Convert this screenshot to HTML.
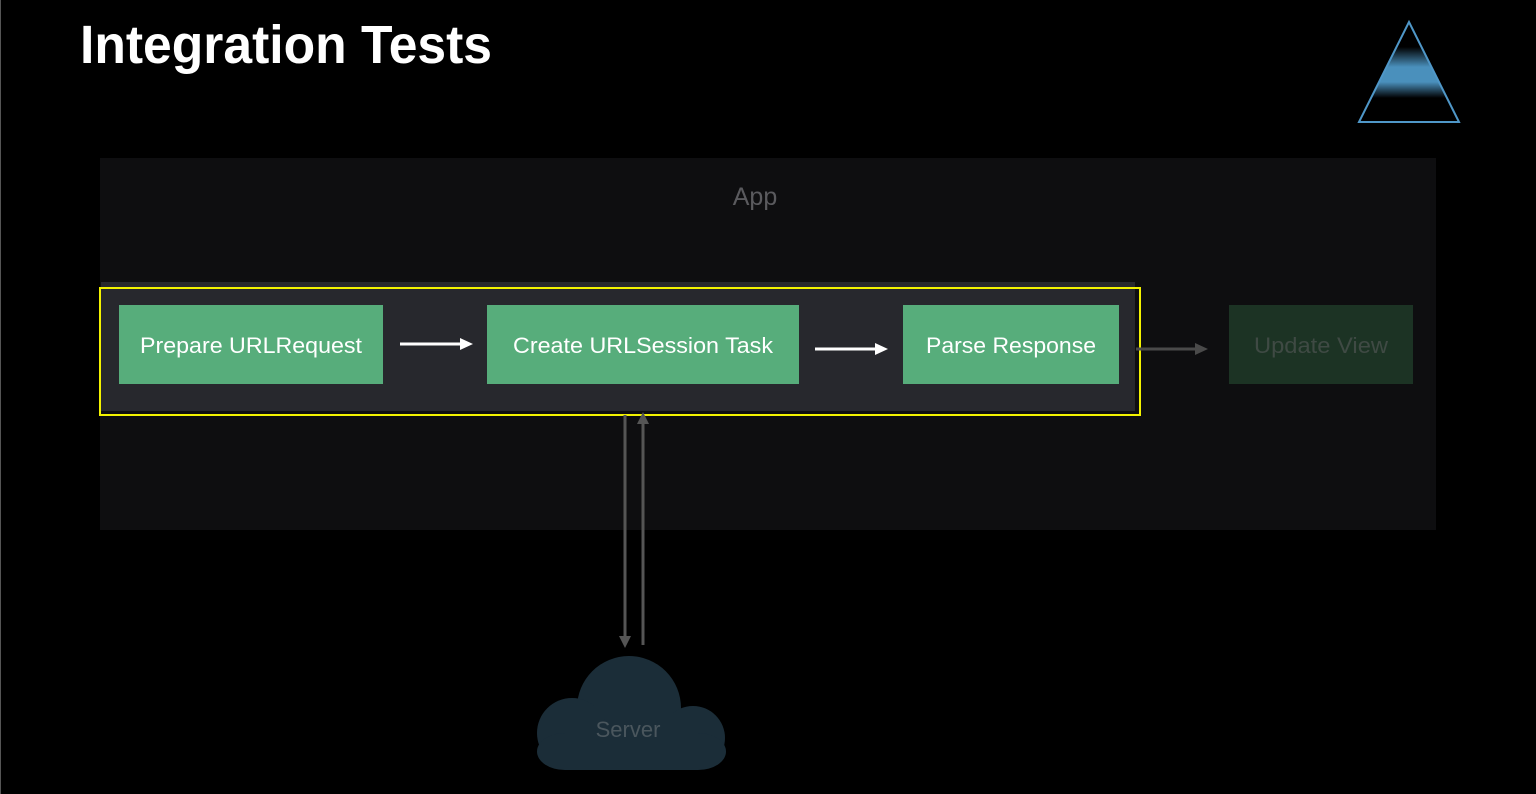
<!DOCTYPE html>
<html><head><meta charset="utf-8"><style>
html,body{margin:0;padding:0;background:#000;}
svg{display:block}
text{font-family:"Liberation Sans",sans-serif;}
</style></head><body>
<svg width="1536" height="794" viewBox="0 0 1536 794" xmlns="http://www.w3.org/2000/svg">
<defs>
<linearGradient id="tg" x1="0" y1="0" x2="0" y2="1">
<stop offset="0" stop-color="#000"/>
<stop offset="0.25" stop-color="#000"/>
<stop offset="0.45" stop-color="#4a90bc"/>
<stop offset="0.6" stop-color="#4a90bc"/>
<stop offset="0.76" stop-color="#000"/>
<stop offset="1" stop-color="#000"/>
</linearGradient>
</defs>
<rect width="1536" height="794" fill="#000"/>
<rect x="0" y="0" width="1" height="794" fill="#555"/>
<text x="80" y="63" font-size="54" font-weight="bold" fill="#fff" textLength="412" lengthAdjust="spacingAndGlyphs">Integration Tests</text>
<polygon points="1409,22 1359,122 1459,122" fill="url(#tg)" stroke="#4f97c8" stroke-width="2"/>
<rect x="100" y="158" width="1336" height="372" fill="#0e0e10"/>
<text x="755" y="205" font-size="25" fill="#5a5a5e" text-anchor="middle">App</text>
<rect x="101" y="282" width="1034" height="129" fill="#27282d"/>
<rect x="100" y="288" width="1040" height="127" fill="none" stroke="#f2f200" stroke-width="2"/>
<rect x="119" y="305" width="264" height="79" fill="#57ad7b"/>
<text x="251" y="353" font-size="22" fill="#fff" text-anchor="middle" textLength="222" lengthAdjust="spacingAndGlyphs">Prepare URLRequest</text>
<rect x="487" y="305" width="312" height="79" fill="#57ad7b"/>
<text x="643" y="353" font-size="22" fill="#fff" text-anchor="middle" textLength="260" lengthAdjust="spacingAndGlyphs">Create URLSession Task</text>
<rect x="903" y="305" width="216" height="79" fill="#57ad7b"/>
<text x="1011" y="353" font-size="22" fill="#fff" text-anchor="middle" textLength="170" lengthAdjust="spacingAndGlyphs">Parse Response</text>
<rect x="1229" y="305" width="184" height="79" fill="#1c3324"/>
<text x="1321" y="353" font-size="22" fill="#3f4a44" text-anchor="middle" textLength="134" lengthAdjust="spacingAndGlyphs">Update View</text>
<line x1="400" y1="344" x2="462" y2="344" stroke="#fff" stroke-width="3"/>
<polygon points="460,338 473,344 460,350" fill="#fff"/>
<line x1="815" y1="349" x2="877" y2="349" stroke="#fff" stroke-width="3"/>
<polygon points="875,343 888,349 875,355" fill="#fff"/>
<line x1="1136" y1="349" x2="1197" y2="349" stroke="#4a4a4a" stroke-width="3"/>
<polygon points="1195,343 1208,349 1195,355" fill="#4a4a4a"/>
<line x1="625" y1="415" x2="625" y2="637" stroke="#555" stroke-width="3"/>
<polygon points="619,636 625,648 631,636" fill="#555"/>
<line x1="643" y1="424" x2="643" y2="645" stroke="#555" stroke-width="3"/>
<polygon points="637,424 643,412 649,424" fill="#555"/>
<g fill="#1b2d38">
<circle cx="629" cy="708" r="52"/>
<circle cx="572" cy="733" r="35"/>
<circle cx="693" cy="738" r="32"/>
<rect x="537" y="733" width="189" height="37" rx="28"/>
<rect x="572" y="720" width="121" height="50"/>
</g>
<text x="628" y="737" font-size="22" fill="#4a565d" text-anchor="middle">Server</text>
</svg>
</body></html>
